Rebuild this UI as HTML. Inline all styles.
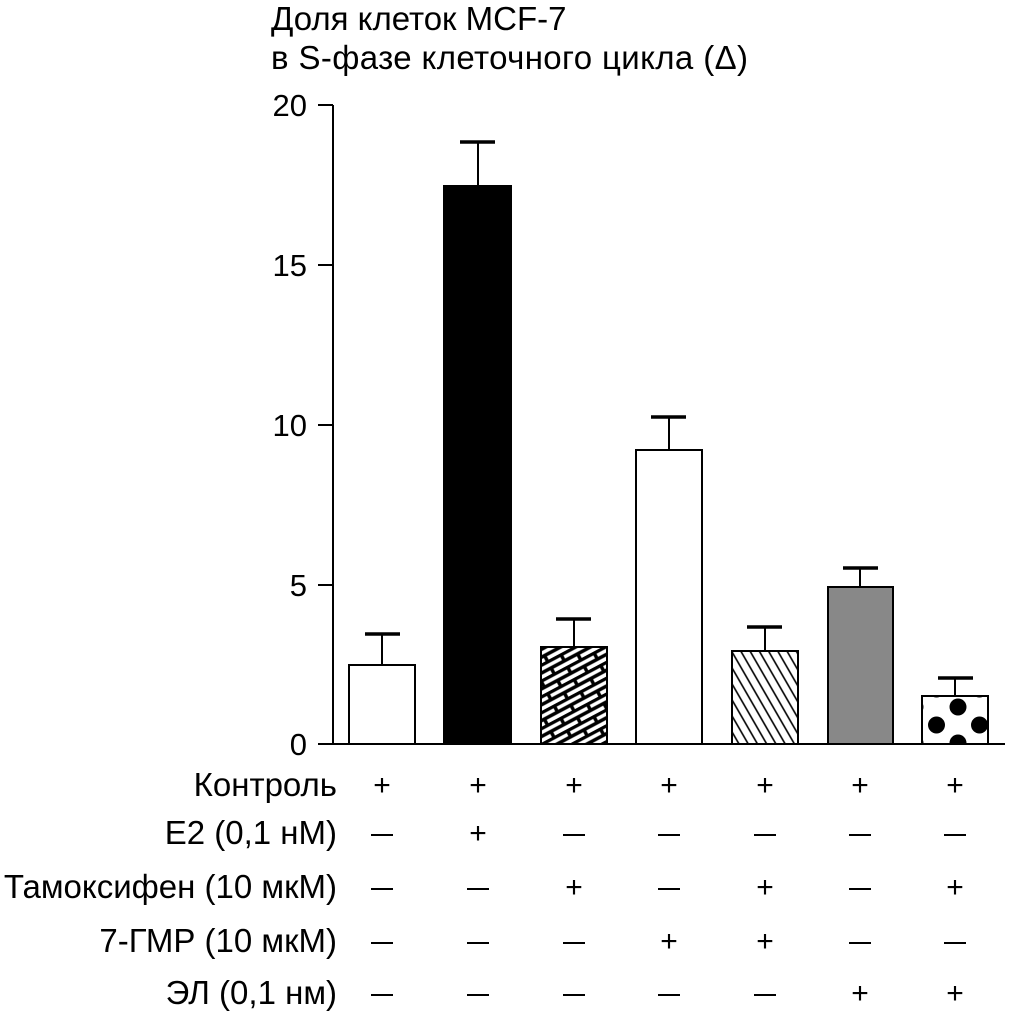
<!DOCTYPE html>
<html><head><meta charset="utf-8"><style>body{margin:0;background:#fff}</style></head><body>
<svg width="1018" height="1014" xmlns="http://www.w3.org/2000/svg" font-family="Liberation Sans, Arial, sans-serif">
<defs>
<pattern id="brick" width="30" height="14" patternUnits="userSpaceOnUse" patternTransform="rotate(-28)">
<rect width="30" height="14" fill="#fff"/>
<line x1="0" y1="1.5" x2="30" y2="1.5" stroke="#000" stroke-width="3.5"/>
<line x1="0" y1="8.5" x2="30" y2="8.5" stroke="#000" stroke-width="3.5"/>
<line x1="8" y1="1.5" x2="8" y2="8.5" stroke="#000" stroke-width="3.5"/>
<line x1="23" y1="8.5" x2="23" y2="14" stroke="#000" stroke-width="3.5"/>
<line x1="23" y1="0" x2="23" y2="1.5" stroke="#000" stroke-width="3.5"/>
</pattern>
<pattern id="hatch" width="8" height="8" patternUnits="userSpaceOnUse" patternTransform="rotate(-30)">
<rect width="8" height="8" fill="#fff"/>
<line x1="4" y1="0" x2="4" y2="8" stroke="#000" stroke-width="1.6"/>
</pattern>
<pattern id="dots" width="43" height="36" patternUnits="userSpaceOnUse" x="958" y="707">
<rect width="43" height="36" fill="#fff"/>
<circle cx="0" cy="0" r="8.5" fill="#000"/><circle cx="43" cy="0" r="8.5" fill="#000"/>
<circle cx="0" cy="36" r="8.5" fill="#000"/><circle cx="43" cy="36" r="8.5" fill="#000"/>
<circle cx="21.5" cy="18" r="8.5" fill="#000"/>
</pattern>
</defs>
<text x="271" y="30" font-size="33">Доля клеток MCF-7</text>
<text x="271" y="69" font-size="33" textLength="477">в  S-фазе клеточного цикла (Δ)</text>
<g stroke="#000" stroke-width="2">
<line x1="333" y1="105" x2="333" y2="745"/>
<line x1="318" y1="105" x2="333" y2="105"/>
<line x1="318" y1="265" x2="333" y2="265"/>
<line x1="318" y1="425" x2="333" y2="425"/>
<line x1="318" y1="585" x2="333" y2="585"/>
<line x1="318" y1="744" x2="1005" y2="744"/>
</g>
<g font-size="31" text-anchor="end">
<text x="307" y="116">20</text><text x="307" y="276">15</text><text x="307" y="436">10</text><text x="307" y="596">5</text><text x="307" y="755">0</text>
</g>
<g stroke="#000" stroke-width="2">
<line x1="382" y1="665" x2="382" y2="634"/><line x1="365" y1="634" x2="400" y2="634" stroke-width="3.5"/>
<line x1="478" y1="186" x2="478" y2="142"/><line x1="460" y1="142" x2="495" y2="142" stroke-width="3.5"/>
<line x1="574" y1="647" x2="574" y2="619"/><line x1="556" y1="619" x2="591" y2="619" stroke-width="3.5"/>
<line x1="669" y1="450" x2="669" y2="417"/><line x1="651" y1="417" x2="686" y2="417" stroke-width="3.5"/>
<line x1="765" y1="651" x2="765" y2="627"/><line x1="747" y1="627" x2="782" y2="627" stroke-width="3.5"/>
<line x1="860" y1="587" x2="860" y2="568"/><line x1="843" y1="568" x2="878" y2="568" stroke-width="3.5"/>
<line x1="955" y1="696" x2="955" y2="678"/><line x1="938" y1="678" x2="973" y2="678" stroke-width="3.5"/>
<rect x="349" y="665" width="66" height="79" fill="#fff"/>
<rect x="444" y="186" width="67" height="558" fill="#000"/>
<rect x="541" y="647" width="66" height="97" fill="url(#brick)"/>
<rect x="636" y="450" width="66" height="294" fill="#fff"/>
<rect x="732" y="651" width="66" height="93" fill="url(#hatch)"/>
<rect x="828" y="587" width="65" height="157" fill="#888"/>
<rect x="922" y="696" width="66" height="48" fill="url(#dots)"/>
</g>
<g font-size="33" text-anchor="end">
<text x="337" y="796">Контроль</text>
<text x="337" y="844">E2 (0,1 нМ)</text>
<text x="337" y="898">Тамоксифен (10 мкМ)</text>
<text x="337" y="952">7-ГМР (10 мкМ)</text>
<text x="337" y="1004">ЭЛ (0,1 нм)</text>
</g>
<g font-size="30" text-anchor="middle">
<text x="382" y="795">+</text><text x="478" y="795">+</text><text x="574" y="795">+</text><text x="669" y="795">+</text><text x="765" y="795">+</text><text x="860" y="795">+</text><text x="955" y="795">+</text>
<text x="478" y="843">+</text>
<text x="574" y="897">+</text><text x="765" y="897">+</text><text x="955" y="897">+</text>
<text x="669" y="951">+</text><text x="765" y="951">+</text>
<text x="860" y="1003">+</text><text x="955" y="1003">+</text>
</g>
<g stroke="#000" stroke-width="2">
<line x1="371" y1="835" x2="393" y2="835"/><line x1="563" y1="835" x2="585" y2="835"/><line x1="658" y1="835" x2="680" y2="835"/><line x1="754" y1="835" x2="776" y2="835"/><line x1="849" y1="835" x2="871" y2="835"/><line x1="944" y1="835" x2="966" y2="835"/>
<line x1="371" y1="889" x2="393" y2="889"/><line x1="467" y1="889" x2="489" y2="889"/><line x1="658" y1="889" x2="680" y2="889"/><line x1="849" y1="889" x2="871" y2="889"/>
<line x1="371" y1="943" x2="393" y2="943"/><line x1="467" y1="943" x2="489" y2="943"/><line x1="563" y1="943" x2="585" y2="943"/><line x1="849" y1="943" x2="871" y2="943"/><line x1="944" y1="943" x2="966" y2="943"/>
<line x1="371" y1="995" x2="393" y2="995"/><line x1="467" y1="995" x2="489" y2="995"/><line x1="563" y1="995" x2="585" y2="995"/><line x1="658" y1="995" x2="680" y2="995"/><line x1="754" y1="995" x2="776" y2="995"/>
</g>
</svg>
</body></html>
